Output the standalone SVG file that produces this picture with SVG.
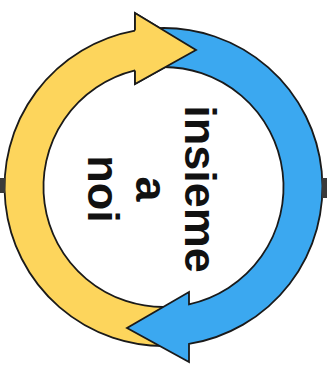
<svg xmlns="http://www.w3.org/2000/svg" width="333" height="366" viewBox="0 0 333 366">
  <style>
    .arrow { stroke: #1a1a1a; stroke-width: 1.8; stroke-linejoin: miter; }
    .edge { fill: none; stroke: #1a1a1a; stroke-width: 1.8; stroke-linejoin: miter; }
    .yellow { fill: #FDD55C; }
    .blue { fill: #3BA8F0; }
    .label { font-family: "Liberation Sans", Arial, sans-serif; font-weight: bold; font-size: 45px; fill: #111; text-anchor: middle; }
    .mark { fill: #3a3a3a; }
  </style>
  <rect width="333" height="366" fill="#ffffff"/>
  <g id="connectors">
    <g id="yellow-arrow">
      <path class="arrow yellow" d="M167.69,306.93 L169.05,345.9 A159,159 0 0 1 135,30.58 L135,13 L196,50 L135,84 L135,70.43 A120,120 0 0 0 167.69,306.93 Z"/>
    </g>
    <g id="blue-arrow">
      <path class="arrow blue" d="M159.3,67.07 L157.95,28.1 A159,159 0 0 1 189,343.94 L189,362 L127,328 L189,292 L189,304.26 A120,120 0 0 0 159.3,67.07 Z"/>
    </g>
    <g id="yellow-head">
      <path class="yellow" d="M135,13 L196,50 L135,84 Z"/>
      <path class="edge" d="M135,30.58 L135,13 L196,50 L135,84 L135,70.43"/>
    </g>
  </g>
  <g id="marks">
    <rect class="mark" x="0" y="178" width="5" height="15"/>
    <rect class="mark" x="322" y="178" width="5" height="20"/>
  </g>
  <g id="label">
    <text class="label" transform="translate(185,189) rotate(90)" x="0" y="0">insieme</text>
    <text class="label" transform="translate(136,189) rotate(90)" x="0" y="0">a</text>
    <text class="label" transform="translate(88,189) rotate(90)" x="0" y="0">noi</text>
  </g>
</svg>
